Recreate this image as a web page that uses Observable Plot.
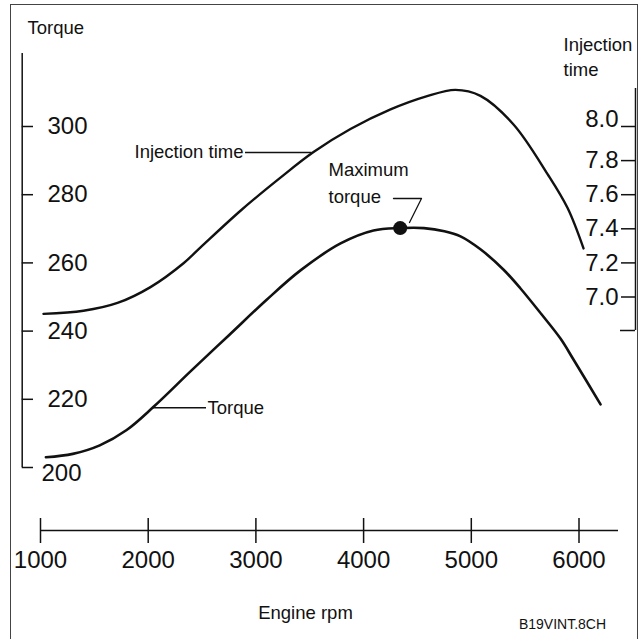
<!DOCTYPE html>
<html>
<head>
<meta charset="utf-8">
<script src="https://cdn.jsdelivr.net/npm/d3@7"></script>
<script src="https://cdn.jsdelivr.net/npm/@observablehq/plot@0.6"></script>
<style>
  html, body { margin: 0; padding: 0; background: #fff; }
  #wrap { position: relative; width: 640px; height: 639px; overflow: hidden; }
  #border { position: absolute; left: 10px; top: 4px; width: 628px; height: 660px;
            border: 1.2px solid #444; box-sizing: border-box; pointer-events: none; }
</style>
</head>
<body>
<div id="wrap"><div id="border"></div></div>
<script>
// ---------- data ----------
const rpmTicks = [1000, 2000, 3000, 4000, 5000, 6000];
const torqueTicks = [200, 220, 240, 260, 280, 300];
const injTicks = [7.0, 7.2, 7.4, 7.6, 7.8, 8.0];
const injTickLabels = ["7.0", "7.2", "7.4", "7.6", "7.8", "8.0"];

const torqueRpm = [1050, 1300, 1550, 1800, 2050, 2400, 2750, 3100, 3414, 3786, 4092, 4340, 4560, 4750, 4900, 5085, 5300, 5457, 5650, 5828, 5950, 6200];
const torqueVal = [203.0, 204.0, 206.5, 211.0, 217.8, 228.4, 238.8, 249.2, 257.8, 265.7, 269.5, 270.2, 270.2, 269.3, 267.8, 264.0, 258.0, 252.5, 245.0, 237.8, 231.6, 218.5];

const injRpm = [1028, 1399, 1715, 2021, 2328, 2486, 2857, 3228, 3535, 3878, 4250, 4575, 4853, 5085, 5392, 5708, 5893, 6042];
const injVal = [6.901, 6.919, 6.965, 7.058, 7.198, 7.291, 7.506, 7.70, 7.85, 7.985, 8.10, 8.175, 8.215, 8.18, 8.012, 7.721, 7.523, 7.285];

const maxTorque = {rpm: 4340, torque: 270.2};
const injLabelRpm = 3520;     // where "Injection time" leader meets its curve
const torqueLabelRpm = 2040;  // where "Torque" leader meets its curve

// ---------- layout ----------
const W = 640, H = 639;
const mL = 40, mR = 61.5, mT = 126, mB = 172;
const xs = d3.scaleLinear([1000, 6000], [mL, W - mR]);
const ys = d3.scaleLinear([200, 300], [H - mB, mT]);
const X = px => xs.invert(px);
const Y = px => ys.invert(px);
// injection time (ms) expressed on the torque scale
const toT = t => 250 + (t - 7) * 50;

const torqueData = torqueRpm.map((r, i) => ({rpm: r, v: torqueVal[i]}));
const injData = injRpm.map((r, i) => ({rpm: r, v: toT(injVal[i])}));
const torqueAt = r => d3.scaleLinear(torqueRpm, torqueVal)(r);

const font = "Liberation Sans, Arial, Helvetica, sans-serif";
const ink = "#111";
const numSize = 24, labSize = 18.5;

const chart = Plot.plot({
  width: W, height: H,
  marginLeft: mL, marginRight: mR, marginTop: mT, marginBottom: mB,
  x: {domain: [1000, 6000], axis: null},
  y: {domain: [200, 300], axis: null},
  style: {fontFamily: font, background: "transparent", overflow: "visible", color: ink},
  marks: [
    // left (torque) axis
    Plot.ruleX([X(21.7)], {y1: Y(467), y2: Y(53), stroke: ink, strokeWidth: 1.5}),
    Plot.ruleY(torqueTicks, {y: d => d, x1: X(21.7), x2: X(33), stroke: ink, strokeWidth: 1.5}),
    Plot.text(torqueTicks.slice(1), {x: X(47), y: d => d, text: d => String(d), textAnchor: "start",
      fontSize: numSize, fill: ink}),
    Plot.text(torqueTicks.slice(0, 1), {x: X(41), y: d => d, dy: 6, text: d => String(d), textAnchor: "start",
      fontSize: numSize, fill: ink}),
    Plot.text(["Torque"], {x: X(27), y: Y(28), text: d => d, textAnchor: "start", fontSize: labSize, fill: ink}),

    // right (injection time) axis
    Plot.ruleX([X(635)], {y1: Y(330), y2: Y(88), stroke: ink, strokeWidth: 1.5}),
    Plot.ruleY([Y(330)], {x1: X(620), x2: X(635), stroke: ink, strokeWidth: 1.5}),
    Plot.ruleY(injTicks, {y: d => toT(d), x1: X(621), x2: X(635), stroke: ink, strokeWidth: 1.5}),
    Plot.text(injTicks.slice(0, 5), {x: X(618), y: d => toT(d), text: (d, i) => injTickLabels[i], textAnchor: "end",
      fontSize: numSize, fill: ink}),
    Plot.text(injTicks.slice(5), {x: X(618), y: d => toT(d), dy: -7, text: () => injTickLabels[5], textAnchor: "end",
      fontSize: numSize, fill: ink}),
    Plot.text(["Injection", "time"], {x: X(563), y: (d, i) => Y(45 + i * 25), text: d => d, textAnchor: "start",
      fontSize: labSize, fill: ink}),

    // bottom (rpm) axis
    Plot.ruleY([Y(530)], {x1: 1000, x2: X(618), stroke: ink, strokeWidth: 1.5}),
    Plot.ruleX(rpmTicks, {x: d => d, y1: Y(518), y2: Y(543), stroke: ink, strokeWidth: 1.5}),
    Plot.text(rpmTicks, {x: d => d, y: Y(560), text: d => String(d), fontSize: numSize, fill: ink}),
    Plot.text(["Engine rpm"], {x: X(305), y: Y(613), text: d => d, fontSize: labSize, fill: ink}),
    Plot.text(["B19VINT.8CH"], {x: X(562), y: Y(624), text: d => d, fontSize: 14, fill: ink}),

    // curves
    Plot.line(injData, {x: "rpm", y: "v", curve: "catmull-rom", stroke: ink, strokeWidth: 2.4}),
    Plot.line(torqueData, {x: "rpm", y: "v", curve: "catmull-rom", stroke: ink, strokeWidth: 2.6}),
    Plot.dot([maxTorque], {x: "rpm", y: "torque", r: 7, fill: ink, stroke: "none"}),

    // annotations
    Plot.text(["Injection time"], {x: X(243), y: Y(152), text: d => d, textAnchor: "end", fontSize: labSize, fill: ink}),
    Plot.ruleY([Y(152)], {x1: X(245), x2: injLabelRpm, stroke: ink, strokeWidth: 1.3}),

    Plot.ruleY([torqueAt(torqueLabelRpm)], {x1: torqueLabelRpm, x2: X(206), stroke: ink, strokeWidth: 1.3}),
    Plot.text(["Torque"], {x: X(207), y: torqueAt(torqueLabelRpm), text: d => d, textAnchor: "start",
      fontSize: labSize, fill: ink}),

    Plot.text(["Maximum", "torque"], {x: X(328), y: (d, i) => Y(170 + i * 27), text: d => d, textAnchor: "start",
      fontSize: labSize, fill: ink}),
    Plot.line([[X(393), Y(198)], [X(421), Y(198)], [X(409), Y(222)]], {stroke: ink, strokeWidth: 1.3})
  ]
});
document.getElementById("wrap").prepend(chart);
</script>
</body>
</html>
